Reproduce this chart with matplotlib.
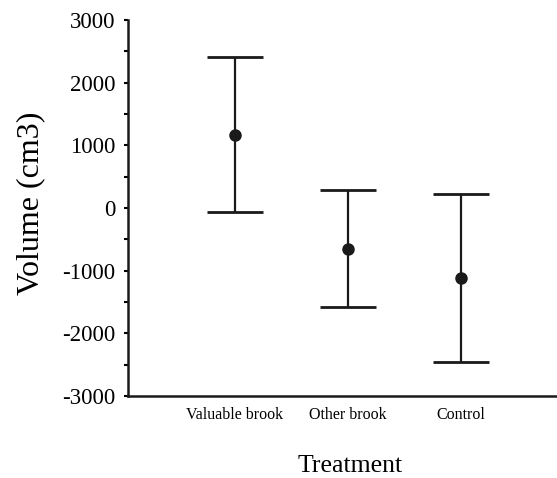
import matplotlib
matplotlib.use("Agg")
import matplotlib.pyplot as plt
from matplotlib.ticker import MultipleLocator
import numpy as np

categories = ["Valuable brook", "Other brook", "Control"]
means = [1160, -655, -1110]
upper = [2410, 283, 230]
lower = [-65, -1575, -2450]

plt.rcParams['font.family'] = ['Liberation Serif', 'DejaVu Serif']
plt.rcParams['axes.unicode_minus'] = False

fig = plt.figure(figsize=(5.57, 4.78), dpi=100)
ax = fig.add_axes([128/557, 1-396/478, 1-128/557, (396-20)/478])

x = np.arange(1, len(categories) + 1)
m = np.array(means)
yerr = [m - np.array(lower), np.array(upper) - m]
ax.errorbar(x, m, yerr=yerr, fmt='o', color='#1a1a1a', ecolor='#1a1a1a',
            elinewidth=1.6, capsize=20.5, capthick=2.0, markersize=8)

ax.set_xlim(0.053, 3.85)
ax.set_ylim(-3000, 3000)
ax.yaxis.set_major_locator(MultipleLocator(1000))
ax.yaxis.set_minor_locator(MultipleLocator(500))
ax.set_xticks(x)
ax.set_xticklabels(categories, fontsize=11.5)
ax.tick_params(axis='x', length=0, pad=8)
ax.tick_params(axis='y', which='both', direction='out', length=3, width=1.5,
               labelsize=16.5, pad=6)
for s in ['top', 'right']:
    ax.spines[s].set_visible(False)
for s in ['left', 'bottom']:
    ax.spines[s].set_linewidth(1.8)
    ax.spines[s].set_color('#1a1a1a')

ax.set_ylabel("Volume (cm3)", fontsize=23)
ax.yaxis.set_label_coords(-0.192, 0.512)
ax.set_xlabel("Treatment", fontsize=18.5)
ax.xaxis.set_label_coords((350 - 128) / 429, -0.158)

fig.savefig("out.png", dpi=100)
